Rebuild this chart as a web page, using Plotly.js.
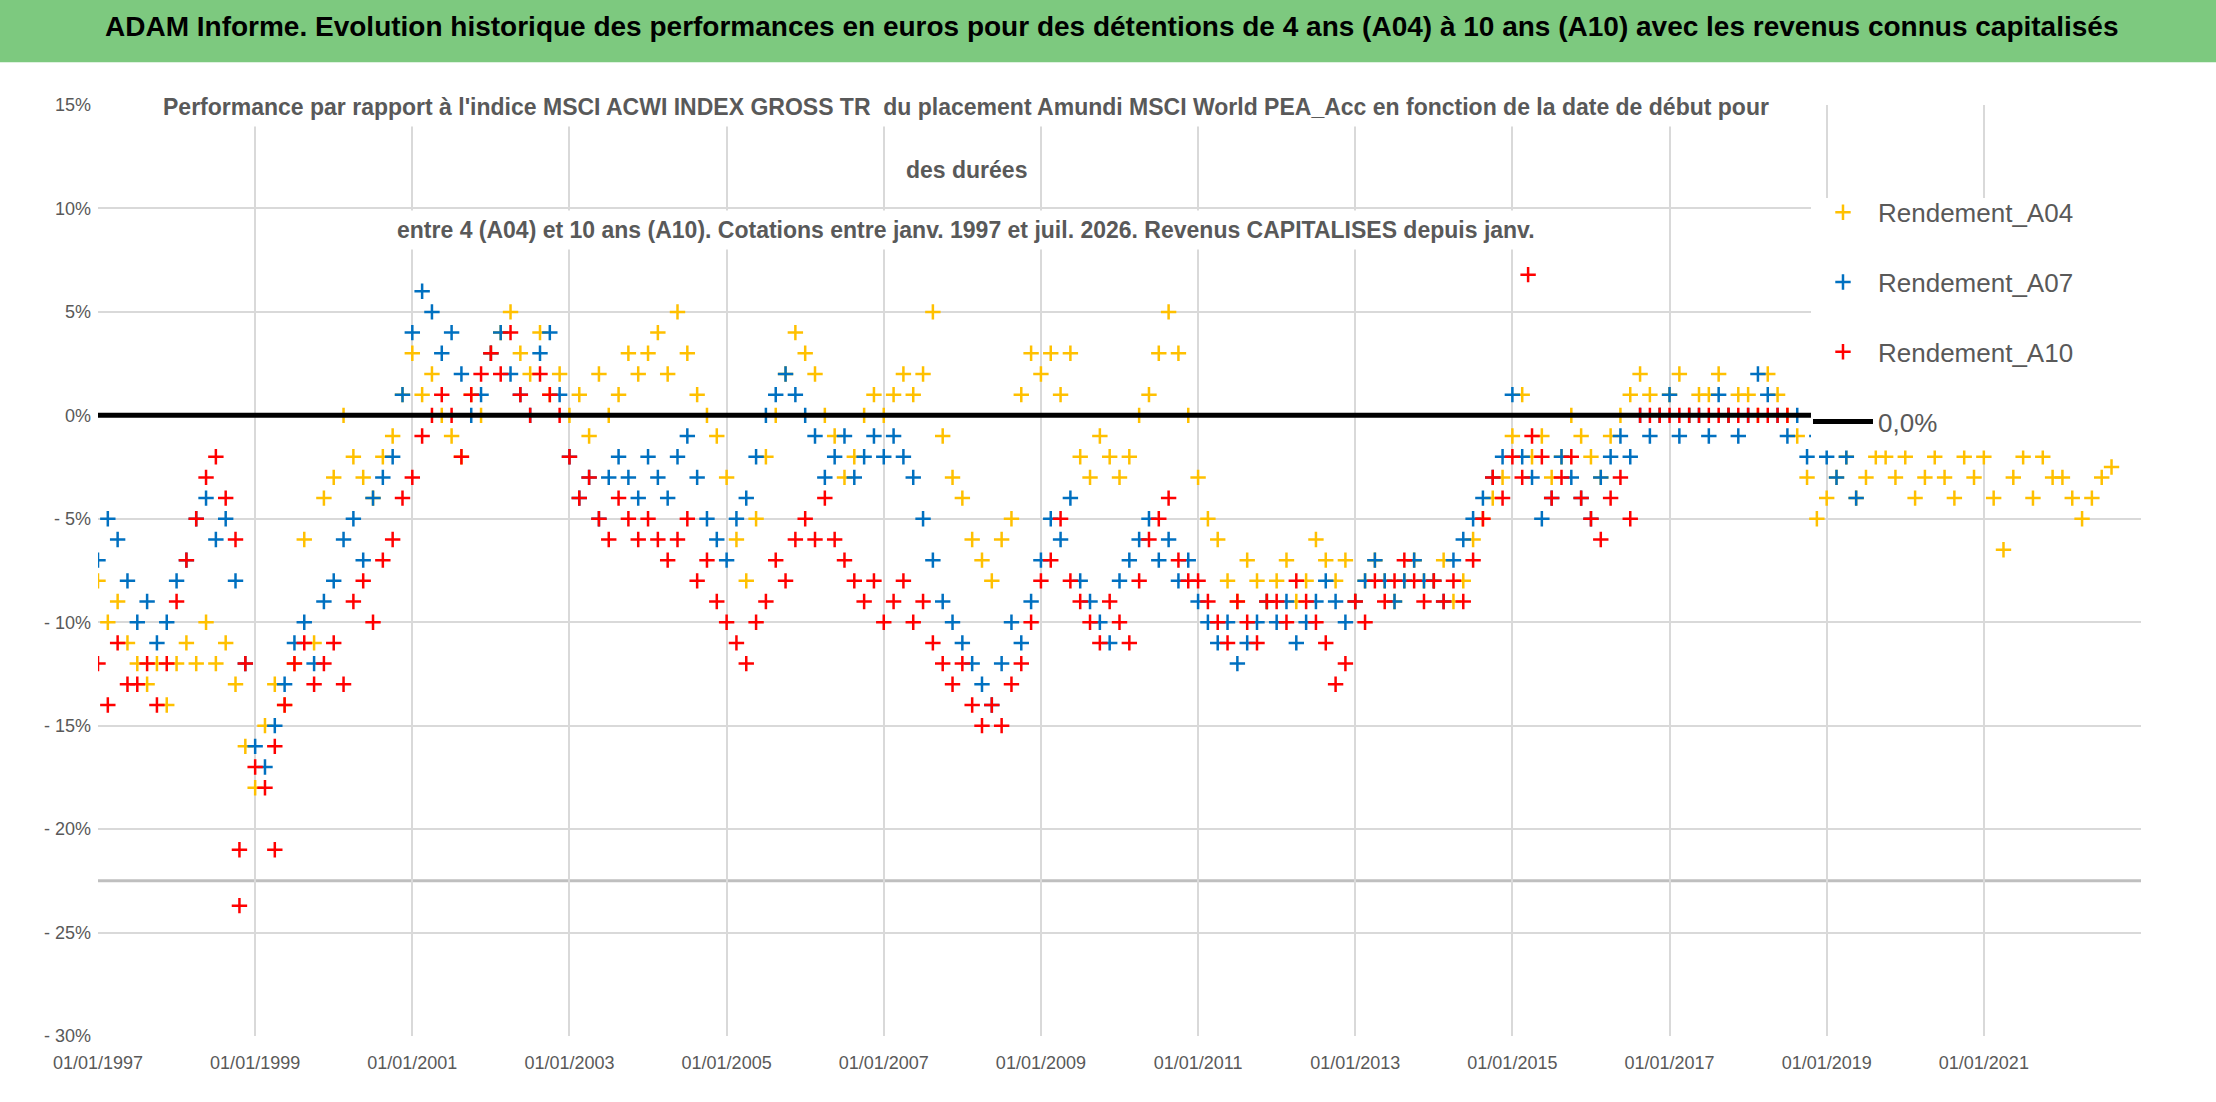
<!DOCTYPE html>
<html>
<head>
<meta charset="utf-8">
<script src="https://cdn.plot.ly/plotly-3.0.1.min.js"></script>
<style>body{margin:0;background:#fff}#chart{width:2216px;height:1102px}</style>
</head>
<body>
<div id="chart"></div>
<script>
// sampling: one value every 1/8 year
const step = 0.125;
const start = 1997;

const a04 = [
  -8, -10, -9, -11, -12, -13, -12, -14,
  -12, -11, -12, -10, -12, -11, -13, -16,
  -18, -15, -13, -14, -12, -6, -11, -4,
  -3, 0, -2, -3, -4, -2, -1, 1,
  3, 1, 2, 0, -1, -2, 1, 0,
  3, 4, 5, 3, 2, 4, 1, 2,
  0, 1, -1, 2, 0, 1, 3, 2,
  3, 4, 2, 5, 3, 1, 0, -1,
  -3, -6, -8, -5, -2, 0, 2, 4,
  3, 2, 0, -1, -3, -2, 0, 1,
  0, 1, 2, 1, 2, 5, -1, -3,
  -4, -6, -7, -8, -6, -5, 1, 3,
  2, 3, 1, 3, -2, -3, -1, -2,
  -3, -2, 0, 1, 3, 5, 3, 0,
  -3, -5, -6, -8, -9, -7, -8, -9,
  -8, -7, -9, -8, -6, -7, -8, -7,
  -9, -8, -7, -8, -9, -8, -7, -8,
  -8, -7, -9, -8, -6, -5, -4, -3,
  -1, 1, -2, -1, -3, -2, 0, -1,
  -2, -3, -1, 0, 1, 2, 1, 0,
  1, 2, 0, 1, 1, 2, 0, 1,
  1, 0, 2, 1, 0, -1, -3, -5,
  -4, -3, -2, -4, -3, -2, -2, -3,
  -2, -4, -3, -2, -3, -4, -2, -3,
  -2, -4, -6.5, -3, -2, -4, -2, -3,
  -3, -4, -5, -4, -3, -2.5
];

const a07 = [
  -7, -5, -6, -8, -10, -9, -11, -10,
  -8, -7, -5, -4, -6, -5, -8, -12,
  -16, -17, -15, -13, -11, -10, -12, -9,
  -8, -6, -5, -7, -4, -3, -2, 1,
  4, 6, 5, 3, 4, 2, 0, 1,
  3, 4, 2, 1, 0, 3, 4, 1,
  -2, -4, -3, -5, -3, -2, -3, -4,
  -2, -3, -4, -2, -1, -3, -5, -6,
  -7, -5, -4, -2, 0, 1, 2, 1,
  0, -1, -3, -2, -1, -3, -2, -1,
  -2, -1, -2, -3, -5, -7, -9, -10,
  -11, -12, -13, -14, -12, -10, -11, -9,
  -7, -5, -6, -4, -8, -9, -10, -11,
  -8, -7, -6, -5, -7, -6, -8, -7,
  -9, -10, -11, -10, -12, -11, -10, -9,
  -10, -9, -11, -10, -9, -8, -9, -10,
  -9, -8, -7, -8, -9, -8, -7, -8,
  -8, -9, -7, -6, -5, -4, -3, -2,
  1, -2, -3, -5, -4, -2, -3, -4,
  -5, -3, -2, -1, -2, 0, -1, 0,
  1, -1, 0, 0, -1, 1, 0, -1,
  0, 2, 1, 0, -1, 0, -2, -1,
  -2, -3, -2, -4
];

const a10 = [
  -12, -14, -11, -13, -13, -12, -14, -12,
  -9, -7, -5, -3, -2, -4, -6, -12,
  -17, -18, -16, -14, -12, -11, -13, -12,
  -11, -13, -9, -8, -10, -7, -6, -4,
  -3, -1, 0, 1, 0, -2, 1, 2,
  3, 2, 4, 1, 0, 2, 1, 0,
  -2, -4, -3, -5, -6, -4, -5, -6,
  -5, -6, -7, -6, -5, -8, -7, -9,
  -10, -11, -12, -10, -9, -7, -8, -6,
  -5, -6, -4, -6, -7, -8, -9, -8,
  -10, -9, -8, -10, -9, -11, -12, -13,
  -12, -14, -15, -14, -15, -13, -12, -10,
  -8, -7, -5, -8, -9, -10, -11, -9,
  -10, -11, -8, -6, -5, -4, -7, -8,
  -8, -9, -10, -11, -9, -10, -11, -9,
  -9, -10, -8, -9, -10, -11, -13, -12,
  -9, -10, -8, -9, -8, -7, -8, -9,
  -8, -9, -8, -9, -7, -5, -3, -4,
  -2, -3, -1, -2, -4, -3, -2, -4,
  -5, -6, -4, -3, -5, 0, 0, 0,
  0, 0, 0, 0, 0, 0, 0, 0,
  0, 0, 0, 0, 0
];

// isolated A10 points
const a10OutX = [1998.8, 1998.8, 1999.25, 2015.2];
const a10OutY = [-21, -23.7, -21, 6.8];

const zeroX = [1997, 2023];
const zeroY = [0, 0];

const yTicks = [15, 10, 5, 0, -5, -10, -15, -20, -25, -30];
const yTickText = ['15%', '10%', '5%', '0%', '- 5%', '- 10%', '- 15%', '- 20%', '- 25%', '- 30%'];
const xTicks = [1997, 1999, 2001, 2003, 2005, 2007, 2009, 2011, 2013, 2015, 2017, 2019, 2021];
const xTickText = xTicks.map(y => '01/01/' + y);

const titleLines = [
  "Performance par rapport à l'indice MSCI ACWI INDEX GROSS TR  du placement Amundi MSCI World PEA_Acc en fonction de la date de début pour",
  'des durées',
  'entre 4 (A04) et 10 ans (A10). Cotations entre janv. 1997 et juil. 2026. Revenus CAPITALISES depuis janv.'
];
const titleY = [0.998, 0.93, 0.866];

const years = arr => arr.map((_, i) => start + i * step);
const font = '"Liberation Sans", Arial, sans-serif';

function cross(color) {
  return { symbol: 'cross-thin-open', size: 11, color: color, line: { color: color, width: 2.5 } };
}

const data = [
  { x: years(a04), y: a04, type: 'scatter', mode: 'markers', name: 'Rendement_A04',
    legendgroup: 'a', marker: cross('#FFC000') },
  { x: years(a07), y: a07, type: 'scatter', mode: 'markers', name: 'Rendement_A07',
    legendgroup: 'b', marker: cross('#0070C0') },
  { x: years(a10).concat(a10OutX), y: a10.concat(a10OutY), type: 'scatter', mode: 'markers',
    name: 'Rendement_A10', legendgroup: 'c', marker: cross('#FF0000') },
  { x: zeroX, y: zeroY, type: 'scatter', mode: 'lines', name: '0,0%',
    legendgroup: 'd', line: { color: '#000', width: 5 } }
];

const annotations = [
  { xref: 'paper', yref: 'paper', x: 0.496, y: 1.084, yanchor: 'middle', showarrow: false,
    text: '<b>ADAM Informe. Evolution historique des performances en euros pour des détentions de 4 ans (A04) à 10 ans (A10) avec les revenus connus capitalisés</b>',
    font: { family: font, size: 28, color: '#000' } }
].concat(titleLines.map((t, i) => ({
  xref: 'paper', yref: 'paper', x: 0.425, y: titleY[i], yanchor: 'middle', showarrow: false,
  bgcolor: '#fff', borderpad: 6, text: '<b>' + t + '</b>',
  font: { family: font, size: 23, color: '#595959' }
})));

const layout = {
  width: 2216, height: 1102,
  margin: { l: 98, r: 75, t: 105, b: 66 },
  paper_bgcolor: '#fff', plot_bgcolor: '#fff',
  showlegend: true,
  legend: {
    x: 0.837, y: 0.91, xanchor: 'left', yanchor: 'top',
    bgcolor: 'rgba(0,0,0,0)', traceorder: 'grouped', tracegroupgap: 33,
    font: { family: font, size: 26, color: '#595959' }, itemwidth: 60
  },
  xaxis: {
    range: [1997, 2023], tickvals: xTicks, ticktext: xTickText,
    showgrid: true, gridcolor: '#d9d9d9', gridwidth: 2, zeroline: false,
    tickfont: { family: font, size: 18, color: '#595959' }, ticks: '', ticklabelstandoff: 14
  },
  yaxis: {
    range: [-30, 15], tickvals: yTicks, ticktext: yTickText,
    showgrid: true, gridcolor: '#d9d9d9', gridwidth: 2, zeroline: false,
    tickfont: { family: font, size: 18, color: '#595959' }, ticks: '', ticklabelstandoff: 6
  },
  shapes: [
    { type: 'rect', xref: 'paper', yref: 'paper', x0: -0.05, x1: 1.04, y0: 1.046, y1: 1.125,
      fillcolor: '#7DC97F', line: { width: 0 }, layer: 'below' },
    { type: 'line', xref: 'paper', yref: 'y', x0: 0, x1: 1, y0: -22.5, y1: -22.5,
      line: { color: '#bfbfbf', width: 3 }, layer: 'below' },
    // white legend box hiding the marks behind it
    { type: 'rect', xref: 'x', yref: 'y', x0: 2018.8, x1: 2023, y0: -1.7, y1: 10.5,
      fillcolor: '#fff', line: { width: 0 }, layer: 'above' }
  ],
  annotations: annotations
};

Plotly.newPlot('chart', data, layout, { displayModeBar: false });
</script>
</body>
</html>
